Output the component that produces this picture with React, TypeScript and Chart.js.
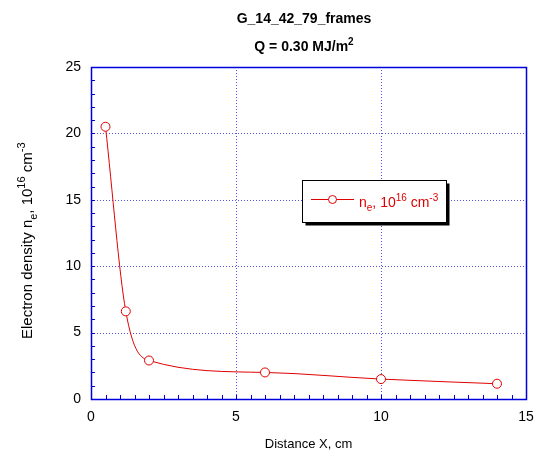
import React, { useEffect, useRef } from "react";
import { Chart, registerables } from "chart.js";

Chart.register(...registerables);

const distances = [0.5, 1.2, 2, 6, 10, 14];
const density = [20.5, 6.6, 2.9, 2.0, 1.5, 1.15];
const xMajorTicks = [0, 5, 10, 15];
const yMajorTicks = [0, 5, 10, 15, 20, 25];
const titleLine1 = "G_14_42_79_frames";

type Seg = { t: string; m?: "sub" | "sup" };

const titleLine2: Seg[] = [{ t: "Q = 0.30 MJ/m" }, { t: "2", m: "sup" }];
const yLabel: Seg[] = [
  { t: "Electron density n" },
  { t: "e", m: "sub" },
  { t: ", 10" },
  { t: "16", m: "sup" },
  { t: " cm" },
  { t: "-3", m: "sup" },
];
const legendLabel: Seg[] = [
  { t: "n" },
  { t: "e", m: "sub" },
  { t: ", 10" },
  { t: "16", m: "sup" },
  { t: " cm" },
  { t: "-3", m: "sup" },
];

const FONT = "Arial, 'Liberation Sans', sans-serif";
const BLUE = "#0000dd";
const RED = "#e00000";

function segWidth(ctx: CanvasRenderingContext2D, segs: Seg[], size: number, bold: boolean) {
  let w = 0;
  for (const s of segs) {
    const fs = s.m ? Math.round(size * 0.7) : size;
    ctx.font = `${bold ? "bold " : ""}${fs}px ${FONT}`;
    w += ctx.measureText(s.t).width;
  }
  return w;
}

function drawSegs(ctx: CanvasRenderingContext2D, segs: Seg[], x: number, y: number, size: number, bold: boolean) {
  let cx = x;
  ctx.textBaseline = "alphabetic";
  ctx.textAlign = "left";
  for (const s of segs) {
    const fs = s.m ? Math.round(size * 0.7) : size;
    ctx.font = `${bold ? "bold " : ""}${fs}px ${FONT}`;
    const dy = s.m === "sup" ? -size * 0.45 : s.m === "sub" ? size * 0.3 : 0;
    ctx.fillText(s.t, cx, y + dy);
    cx += ctx.measureText(s.t).width;
  }
}

const decor = {
  id: "decor",
  beforeDatasetsDraw(chart: any) {
    const ctx: CanvasRenderingContext2D = chart.ctx;
    const { left, right, top, bottom } = chart.chartArea;
    const xs = chart.scales.x;
    const ys = chart.scales.y;
    ctx.save();
    // grid
    ctx.strokeStyle = "rgba(40,40,230,0.8)";
    ctx.lineWidth = 1;
    ctx.setLineDash([1, 2]);
    for (const v of xMajorTicks.slice(1, -1)) {
      const px = Math.round(xs.getPixelForValue(v)) + 0.5;
      ctx.beginPath();
      ctx.moveTo(px, top);
      ctx.lineTo(px, bottom);
      ctx.stroke();
    }
    for (const v of yMajorTicks.slice(1, -1)) {
      const py = Math.round(ys.getPixelForValue(v)) + 0.5;
      ctx.beginPath();
      ctx.moveTo(left, py);
      ctx.lineTo(right, py);
      ctx.stroke();
    }
    ctx.setLineDash([]);
    // minor ticks
    ctx.strokeStyle = BLUE;
    for (let v = 0.5; v < 15; v += 0.5) {
      const px = Math.round(xs.getPixelForValue(v)) + 0.5;
      ctx.beginPath();
      ctx.moveTo(px, bottom);
      ctx.lineTo(px, bottom - 4);
      ctx.stroke();
    }
    for (let v = 1; v < 25; v += 1) {
      const py = Math.round(ys.getPixelForValue(v)) + 0.5;
      ctx.beginPath();
      ctx.moveTo(left, py);
      ctx.lineTo(left + 4, py);
      ctx.stroke();
    }
    // border
    ctx.strokeStyle = BLUE;
    ctx.lineWidth = 1.5;
    ctx.strokeRect(Math.round(left) + 0.5, Math.round(top) + 0.5, Math.round(right - left), Math.round(bottom - top));
    // tick labels
    ctx.fillStyle = "#000";
    ctx.font = `14px ${FONT}`;
    ctx.textAlign = "right";
    ctx.textBaseline = "middle";
    for (const v of yMajorTicks) {
      ctx.fillText(String(v), left - 10, ys.getPixelForValue(v));
    }
    ctx.textAlign = "center";
    ctx.textBaseline = "top";
    for (const v of xMajorTicks) {
      ctx.fillText(String(v), xs.getPixelForValue(v), bottom + 11);
    }
    // axis titles
    ctx.font = `13px ${FONT}`;
    ctx.textAlign = "center";
    ctx.textBaseline = "alphabetic";
    ctx.fillText("Distance X, cm", (left + right) / 2, 448);
    ctx.save();
    ctx.translate(32, 0);
    ctx.rotate(-Math.PI / 2);
    drawSegs(ctx, yLabel, -339, 0, 15, false);
    ctx.restore();
    // titles
    ctx.font = `bold 14px ${FONT}`;
    ctx.textAlign = "center";
    ctx.fillText(titleLine1, 304, 23);
    const tw = segWidth(ctx, titleLine2, 14, true);
    drawSegs(ctx, titleLine2, 304 - tw / 2, 51, 14, true);
    ctx.restore();
  },
  afterDatasetsDraw(chart: any) {
    const ctx: CanvasRenderingContext2D = chart.ctx;
    ctx.save();
    const bx = 302.5, by = 180.5, bw = 144, bh = 42;
    ctx.fillStyle = "#000";
    ctx.fillRect(bx + 3, by + 3, bw, bh);
    ctx.fillStyle = "#fff";
    ctx.fillRect(bx, by, bw, bh);
    ctx.strokeStyle = "#000";
    ctx.lineWidth = 1;
    ctx.strokeRect(bx, by, bw, bh);
    ctx.strokeStyle = RED;
    ctx.beginPath();
    ctx.moveTo(311, 199.5);
    ctx.lineTo(354, 199.5);
    ctx.stroke();
    ctx.fillStyle = "#fff";
    ctx.beginPath();
    ctx.arc(332.5, 199.5, 4, 0, Math.PI * 2);
    ctx.fill();
    ctx.stroke();
    ctx.fillStyle = RED;
    drawSegs(ctx, legendLabel, 359, 207, 14, false);
    ctx.restore();
  },
};

export default function App() {
  const ref = useRef<HTMLCanvasElement>(null);
  useEffect(() => {
    document.body.style.margin = "0";
    const chart = new Chart(ref.current!, {
      type: "line",
      data: {
        datasets: [
          {
            data: distances.map((x, i) => ({ x, y: density[i] })),
            borderColor: RED,
            borderWidth: 1,
            backgroundColor: "#fff",
            pointRadius: 4.5,
            pointBorderWidth: 1,
            pointBorderColor: RED,
            pointBackgroundColor: "#fff",
            cubicInterpolationMode: "monotone",
          },
        ],
      },
      options: {
        animation: false,
        responsive: false,
        layout: { padding: { left: 91, top: 67, right: 12, bottom: 57 } },
        plugins: { legend: { display: false }, tooltip: { enabled: false }, title: { display: false } },
        scales: {
          x: { type: "linear", min: 0, max: 15, display: false },
          y: { type: "linear", min: 0, max: 25, display: false },
        },
      },
      plugins: [decor],
    });
    return () => chart.destroy();
  }, []);
  return (
    <div style={{ width: 538, height: 456 }}>
      <canvas ref={ref} width={538} height={456} style={{ display: "block" }} />
    </div>
  );
}
